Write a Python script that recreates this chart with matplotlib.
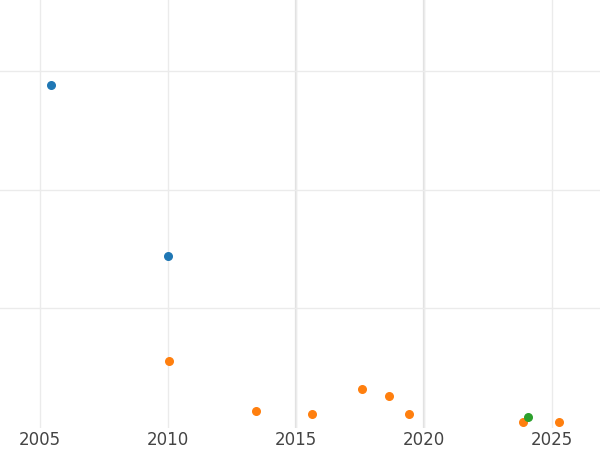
import matplotlib
matplotlib.use("Agg")
from matplotlib import pyplot as plt

blue_x = [2005.43, 2010.0]
blue_y = [28.8, 14.4]
orange_x = [2010.05, 2013.44, 2015.63, 2017.58, 2018.63, 2019.41, 2023.87, 2025.27]
orange_y = [5.5, 1.3, 1.05, 3.2, 2.6, 1.05, 0.4, 0.4]
green_x = [2024.06]
green_y = [0.8]
xticks = [2005, 2010, 2015, 2020, 2025]
yticks = [10, 20, 30]

fig = plt.figure(figsize=(6, 4.5), dpi=100)
ax = fig.add_axes([0, 0.049, 1, 0.951])

ax.scatter(blue_x, blue_y, color="#1f77b4", s=30, zorder=3)
ax.scatter(orange_x, orange_y, color="#ff7f0e", s=30, zorder=3)
ax.scatter(green_x, green_y, color="#2ca02c", s=30, zorder=3)

ax.set_xlim(2003.44, 2026.875)
ax.set_ylim(-0.13, 36)
ax.set_xticks(xticks)
ax.set_yticks(yticks)
ax.set_yticklabels([])
ax.tick_params(axis="both", length=0, labelsize=12, labelcolor="#444444", pad=2)
ax.grid(True, color="#ebebeb", linewidth=1)
for x in (2015, 2020):
    ax.axvline(x, color="#e0e0e0", linewidth=1.6, zorder=0)
for s in ax.spines.values():
    s.set_visible(False)

fig.savefig("out.png")
